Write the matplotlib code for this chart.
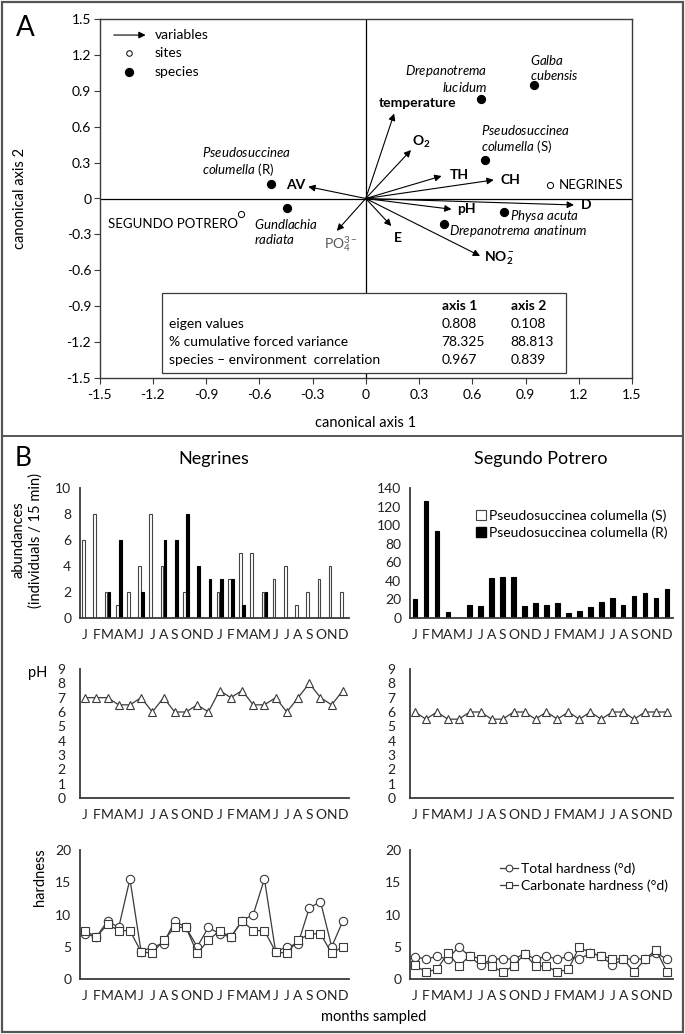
import numpy as np
import matplotlib.pyplot as plt
from matplotlib.patches import Rectangle, Patch
from matplotlib.lines import Line2D

plt.rcParams['font.family'] = ['Lato', 'DejaVu Sans']
plt.rcParams['mathtext.fontset'] = 'custom'
plt.rcParams['mathtext.rm'] = 'Lato'
plt.rcParams['mathtext.it'] = 'Lato:italic'
plt.rcParams['mathtext.bf'] = 'Lato:bold'

W, H = 685, 1034
DARK = '#3a3a3a'

# ---------------- panel A: CCA biplot ----------------
sp_names = ['Galba cubensis', 'Drepanotrema lucidum', 'Pseudosuccinea columella (S)',
            'Pseudosuccinea columella (R)', 'Gundlachia radiata', 'Physa acuta',
            'Drepanotrema anatinum']
sp_x = [0.95, 0.65, 0.67, -0.535, -0.445, 0.78, 0.44]
sp_y = [0.95, 0.83, 0.32, 0.12, -0.08, -0.115, -0.21]

site_names = ['NEGRINES', 'SEGUNDO POTRERO']
site_x = [1.04, -0.70]
site_y = [0.11, -0.13]

var_names = ['temperature', 'O2', 'TH', 'CH', 'AV', 'D', 'pH', 'E', 'NO2', 'PO4']
var_x = [0.16, 0.255, 0.427, 0.721, -0.324, 1.173, 0.483, 0.144, 0.644, -0.163]
var_y = [0.71, 0.405, 0.188, 0.155, 0.099, -0.054, -0.09, -0.23, -0.48, -0.27]

table_cols = ['axis 1', 'axis 2']
table_rows = ['eigen values', '% cumulative forced variance', 'species \u2013 environment  correlation']
table_vals = [['0.808', '0.108'], ['78.325', '88.813'], ['0.967', '0.839']]

# ---------------- panel B: monthly series ----------------
months = ['J', 'F', 'M', 'A', 'M', 'J', 'J', 'A', 'S', 'O', 'N', 'D'] * 2

neg_S = [6, 8, 2, 1, 2, 4, 8, 4, 0, 2, 0, 0, 2, 3, 5, 5, 2, 3, 4, 1, 2, 3, 4, 2]
neg_R = [0, 0, 2, 6, 0, 2, 0, 6, 6, 8, 4, 3, 3, 3, 1, 0, 2, 0, 0, 0, 0, 0, 0, 0]
seg_S = [0, 0, 0, 0, 0, 0, 0, 0, 0, 0, 0, 0, 0, 0, 0, 0, 0, 0, 0, 0, 0, 0, 0, 0]
seg_R = [20, 126, 94, 7, 0, 14, 13, 43, 44, 44, 13, 16, 14, 16, 5, 8, 12, 17, 22, 14, 24, 27, 22, 31]

neg_pH = [7, 7, 7, 6.5, 6.5, 7, 6, 7, 6, 6, 6.5, 6, 7.5, 7, 7.5, 6.5, 6.5, 7, 6, 7, 8, 7, 6.5, 7.5]
seg_pH = [6, 5.5, 6, 5.5, 5.5, 6, 6, 5.5, 5.5, 6, 6, 5.5, 6, 5.5, 6, 5.5, 6, 5.5, 6, 6, 5.5, 6, 6, 6]

neg_TH = [7, 6.5, 9, 8, 15.5, 4.2, 5, 5.5, 9, 8, 5, 8, 7, 6.5, 9, 10, 15.5, 4.2, 5, 5.5, 11, 12, 5, 9]
neg_CH = [7.5, 6.5, 8.5, 7.5, 7.5, 4.2, 4, 6, 8, 8, 4, 6, 7.5, 6.5, 9, 7.5, 7.5, 4.2, 4, 6, 7, 7, 4, 5]
seg_TH = [3.4, 3.1, 3.5, 3.1, 5, 3.5, 2.1, 3.1, 3.1, 3.1, 3.9, 3.1, 3.5, 3.1, 3.5, 3.1, 4, 3.6, 2.1, 3.1, 3.1, 3.1, 4, 3.1]
seg_CH = [2.1, 1.1, 1.5, 4, 2, 3.6, 3.1, 2, 1.1, 2, 3.9, 2, 2, 1.1, 1.5, 5, 4, 3.6, 3.1, 3.1, 1.1, 3.1, 4.5, 1.1]


def box(x0, y0, x1, y1):
    return [x0 / W, 1 - y1 / H, (x1 - x0) / W, (y1 - y0) / H]


def it(s):
    return '$\\it{' + s.replace(' ', '\\ ') + '}$'


fig = plt.figure(figsize=(W / 100, H / 100), dpi=100)

# label placement (layout only)
sp_lab = {
    'Galba cubensis': (0.925, 1.095, 'left', it('Galba') + '\n' + it('cubensis')),
    'Drepanotrema lucidum': (0.685, 1.0, 'right', it('Drepanotrema') + '\n' + it('lucidum')),
    'Pseudosuccinea columella (S)': (0.65, 0.497, 'left', it('Pseudosuccinea') + '\n' + it('columella') + ' (S)'),
    'Pseudosuccinea columella (R)': (-0.92, 0.31, 'left', it('Pseudosuccinea') + '\n' + it('columella') + ' (R)'),
    'Gundlachia radiata': (-0.63, -0.276, 'left', it('Gundlachia') + '\n' + it('radiata')),
    'Physa acuta': (0.81, -0.146, 'left', it('Physa acuta')),
    'Drepanotrema anatinum': (0.467, -0.272, 'left', it('Drepanotrema anatinum')),
}
var_lab = {
    'temperature': (0.29, 0.80, 'center', 'temperature'),
    'O2': (0.26, 0.47, 'left', r'$\mathbf{O_2}$'),
    'TH': (0.472, 0.196, 'left', 'TH'),
    'CH': (0.761, 0.155, 'left', 'CH'),
    'AV': (-0.397, 0.113, 'center', 'AV'),
    'D': (1.213, -0.054, 'left', 'D'),
    'pH': (0.512, -0.09, 'left', 'pH'),
    'E': (0.182, -0.33, 'center', 'E'),
    'NO2': (0.666, -0.497, 'left', r'$\mathbf{NO_2^-}$'),
}
site_lab = {
    'NEGRINES': (1.089, 0.113, 'left'),
    'SEGUNDO POTRERO': (-0.72, -0.216, 'right'),
}

axA = fig.add_axes(box(99.5, 19, 632, 378))
axA.set_xlim(-1.5, 1.5)
axA.set_ylim(-1.5, 1.5)
ticks = np.arange(-1.5, 1.51, 0.3)
fmt = lambda v: '0' if abs(v) < 1e-9 else '%.1f' % v
axA.set_xticks(ticks)
axA.set_xticklabels([fmt(t) for t in ticks])
axA.set_yticks(ticks)
axA.set_yticklabels([fmt(t) for t in ticks])
axA.tick_params(labelsize=10, length=4, width=0.8, color=DARK, pad=2)
axA.tick_params(axis='x', pad=4)
for s in axA.spines.values():
    s.set_color(DARK)
    s.set_linewidth(1.0)
axA.axhline(0, color='k', lw=0.9, zorder=1)
axA.axvline(0, color='k', lw=0.9, zorder=1)

for nm, x, y in zip(var_names, var_x, var_y):
    axA.annotate('', xy=(x, y), xytext=(0, 0),
                 arrowprops=dict(arrowstyle='-|>', color='k', lw=0.8,
                                 mutation_scale=10, shrinkA=0, shrinkB=0), zorder=3)
    if nm in var_lab:
        lx, ly, ha, txt = var_lab[nm]
        axA.text(lx, ly, txt, ha=ha, va='center', fontsize=10, fontweight='bold')
axA.text(-0.235, -0.38, r'PO$_4^{3-}$', ha='left', va='center', fontsize=10, color='#555555')

axA.scatter(sp_x, sp_y, s=32, color='k', zorder=4)
for nm in sp_names:
    lx, ly, ha, txt = sp_lab[nm]
    axA.text(lx, ly, txt, ha=ha, va='center', fontsize=9.5, linespacing=1.1)

axA.scatter(site_x, site_y, s=20, facecolor='white', edgecolor='k', lw=0.7, zorder=4)
for nm in site_names:
    lx, ly, ha = site_lab[nm]
    axA.text(lx, ly, nm, ha=ha, va='center', fontsize=9.5)

# key
axA.annotate('', xy=(-1.24, 1.366), xytext=(-1.42, 1.366),
             arrowprops=dict(arrowstyle='-|>', color='k', lw=0.8, mutation_scale=10,
                             shrinkA=0, shrinkB=0))
axA.text(-1.187, 1.366, 'variables', va='center', fontsize=10)
axA.scatter([-1.333], [1.213], s=16, facecolor='white', edgecolor='k', lw=0.7)
axA.text(-1.187, 1.213, 'sites', va='center', fontsize=10)
axA.scatter([-1.333], [1.06], s=32, color='k')
axA.text(-1.187, 1.06, 'species', va='center', fontsize=10)

# eigenvalue table
axA.add_patch(Rectangle((-1.148, -1.457), 2.276, 0.667, facecolor='white',
                        edgecolor=DARK, lw=0.9, zorder=5))
col_x = [0.427, 0.817]
row_y = [-1.048, -1.198, -1.349]
for cx, c in zip(col_x, table_cols):
    axA.text(cx, -0.898, c, fontsize=10, fontweight='bold', va='center', zorder=6)
for ry, r, vals in zip(row_y, table_rows, table_vals):
    axA.text(-1.11, ry, r, fontsize=10, va='center', zorder=6)
    for cx, v in zip(col_x, vals):
        axA.text(cx, ry, v, fontsize=10, va='center', zorder=6)

fig.text(20 / W, 1 - 198 / H, 'canonical axis 2', rotation=90, ha='center', va='center', fontsize=10.5)
fig.text(366 / W, 1 - 423 / H, 'canonical axis 1', ha='center', va='center', fontsize=10.5)
fig.text(25 / W, 1 - 28 / H, 'A', ha='center', va='center', fontsize=20)

# ---------------- panel B ----------------
fig.text(23 / W, 1 - 459 / H, 'B', ha='center', va='center', fontsize=19)
fig.text(214 / W, 1 - 459 / H, 'Negrines', ha='center', va='center', fontsize=13)
fig.text(541 / W, 1 - 459 / H, 'Segundo Potrero', ha='center', va='center', fontsize=13)

x = np.arange(24)


def style_b(ax, ymax, step):
    ax.set_xlim(-0.5, 23.5)
    ax.set_ylim(0, ymax)
    ax.set_yticks(np.arange(0, ymax + 0.1, step))
    ax.set_xticks(x)
    ax.set_xticklabels(months)
    ax.tick_params(length=0, labelsize=10, colors='#222222')
    ax.tick_params(axis='x', pad=8)
    ax.tick_params(axis='y', pad=6)
    for side in ['top', 'right']:
        ax.spines[side].set_visible(False)
    for side in ['left', 'bottom']:
        ax.spines[side].set_color(DARK)
        ax.spines[side].set_linewidth(1.3)


L_NEG = (79.5, 348.5)
L_SEG = (409.5, 672.5)

ax1 = fig.add_axes(box(L_NEG[0], 488, L_NEG[1], 618))
ax1.bar(x - 0.14, neg_S, width=0.24, facecolor='white', edgecolor='#444444', lw=0.8)
ax1.bar(x + 0.14, neg_R, width=0.24, facecolor='black', edgecolor='black', lw=0.8)
style_b(ax1, 10, 2)

ax2 = fig.add_axes(box(L_SEG[0], 488, L_SEG[1], 618))
ax2.bar(x, seg_S, width=0.42, facecolor='white', edgecolor='#444444', lw=0.8)
ax2.bar(x, seg_R, width=0.42, facecolor='black', edgecolor='black', lw=0.8)
style_b(ax2, 140, 20)
ax2.legend(handles=[Patch(facecolor='white', edgecolor='#444444', lw=0.8),
                    Patch(facecolor='black', edgecolor='black')],
           labels=['Pseudosuccinea columella (S)', 'Pseudosuccinea columella (R)'],
           loc='upper right', bbox_to_anchor=(1.03, 0.93), frameon=False, fontsize=10,
           handlelength=0.7, handleheight=0.7, handletextpad=0.25, labelspacing=0.3)

ax3 = fig.add_axes(box(L_NEG[0], 669, L_NEG[1], 798))
ax3.plot(x, neg_pH, color=DARK, lw=0.9, marker='^', ms=6, mfc='white', mec=DARK, mew=0.8)
style_b(ax3, 9, 1)
ax3.tick_params(axis='y', pad=10)

ax4 = fig.add_axes(box(L_SEG[0], 669, L_SEG[1], 798))
ax4.plot(x, seg_pH, color=DARK, lw=0.9, marker='^', ms=6, mfc='white', mec=DARK, mew=0.8)
style_b(ax4, 9, 1)
ax4.tick_params(axis='y', pad=10)

ax5 = fig.add_axes(box(L_NEG[0], 850, L_NEG[1], 979))
ax5.plot(x, neg_TH, color=DARK, lw=0.9, marker='o', ms=6, mfc='white', mec=DARK, mew=0.8)
ax5.plot(x, neg_CH, color=DARK, lw=0.9, marker='s', ms=6, mfc='white', mec=DARK, mew=0.8)
style_b(ax5, 20, 5)

ax6 = fig.add_axes(box(L_SEG[0], 850, L_SEG[1], 979))
l1, = ax6.plot(x, seg_TH, color=DARK, lw=0.9, marker='o', ms=6, mfc='white', mec=DARK, mew=0.8)
l2, = ax6.plot(x, seg_CH, color=DARK, lw=0.9, marker='s', ms=6, mfc='white', mec=DARK, mew=0.8)
style_b(ax6, 20, 5)
ax6.legend([l1, l2], ['Total hardness (\u00b0d)', 'Carbonate hardness (\u00b0d)'],
           loc='upper right', bbox_to_anchor=(1.03, 1.0), frameon=False, fontsize=10,
           handlelength=1.3, handletextpad=0.2, labelspacing=0.3, markerscale=0.8)

fig.text(27 / W, 1 - 540 / H, 'abundances\n(individuals / 15 min)', rotation=90,
         ha='center', va='center', fontsize=10.5, linespacing=1.2)
fig.text(38 / W, 1 - 673 / H, 'pH', ha='center', va='center', fontsize=10.5)
fig.text(40 / W, 1 - 877 / H, 'hardness', rotation=90, ha='center', va='center', fontsize=10.5)
fig.text(374 / W, 1 - 1017 / H, 'months sampled', ha='center', va='center', fontsize=10.5)

# frames
fig.add_artist(Rectangle((2 / W, 2 / H), 681 / W, 1030 / H, transform=fig.transFigure,
                         fill=False, edgecolor='#555555', lw=1.6))
fig.add_artist(Line2D([2 / W, 683 / W], [1 - 436 / H, 1 - 436 / H], transform=fig.transFigure,
                      color='#555555', lw=1.4))

fig.savefig('out.png', dpi=100, facecolor='white')
